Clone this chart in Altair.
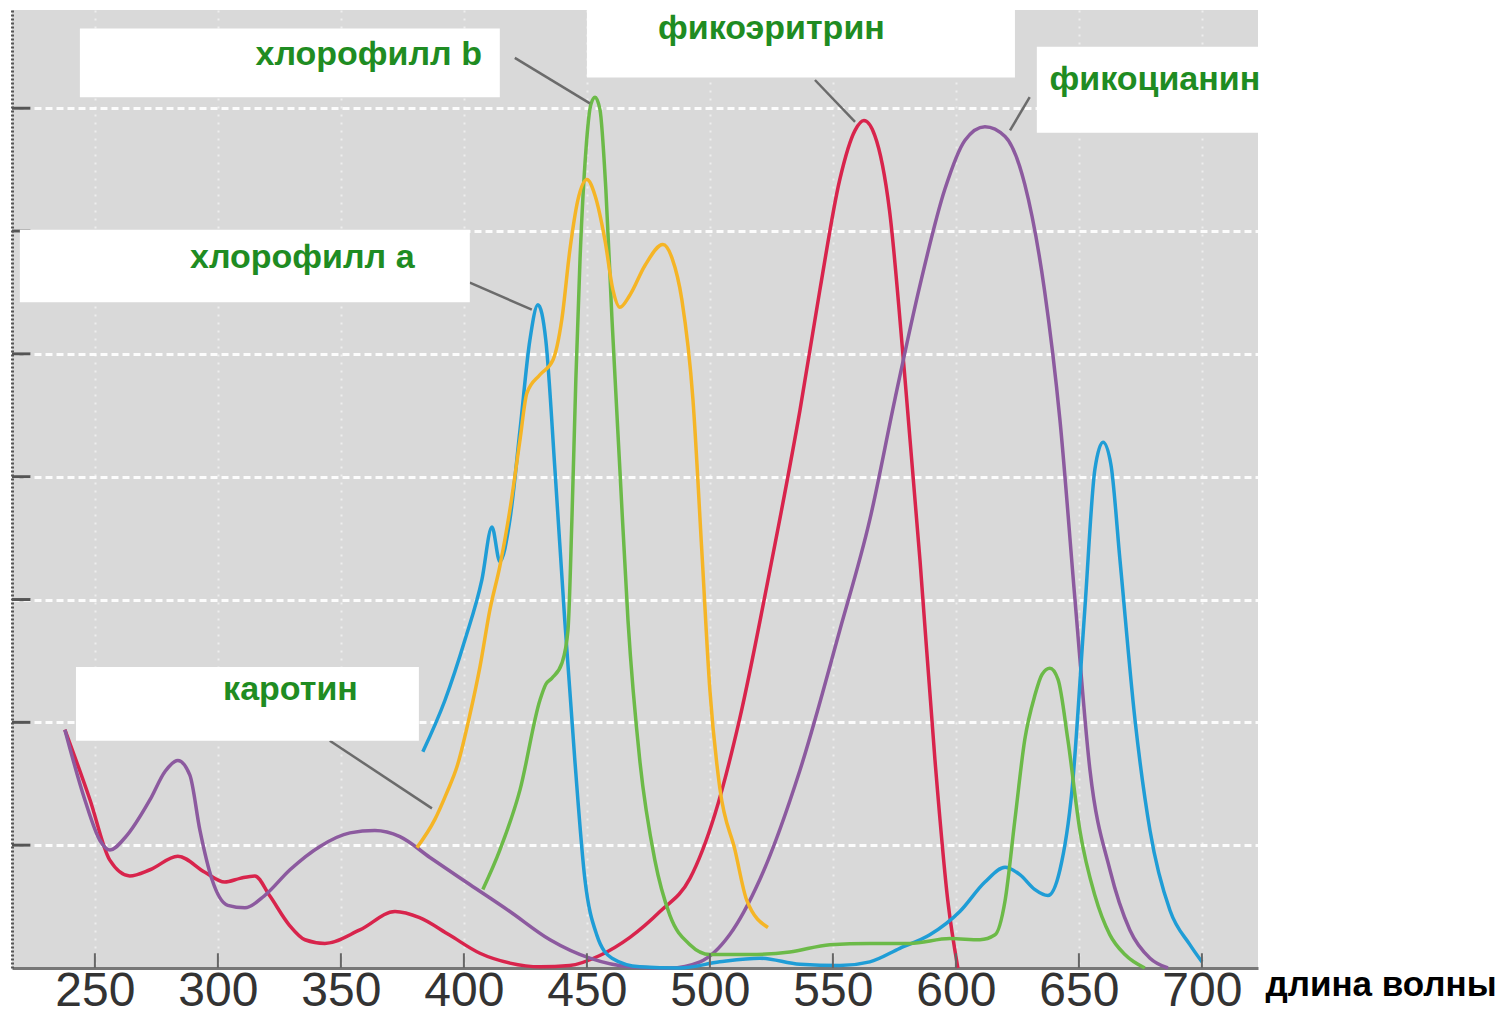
import altair as alt
import pandas as pd

# ---------------- data (wavelength, nm ; absorbance, arbitrary units) ----------------
red_nm = [237.8, 248, 256, 264.2, 272.4, 283.7, 294.7, 302.8, 309, 315, 321, 329, 335.4, 343.5,
          357.7, 372, 382, 394, 406.5, 418.7, 431, 443, 455, 467.5, 479.7, 491.9, 502, 512,
          524.4, 536.6, 544.7, 552.8, 559, 562.6, 567, 573, 579, 585.4, 591.5, 596.7, 600.8]
red_val = [1.94, 1.37, 0.88, 0.75, 0.80, 0.91, 0.78, 0.70, 0.73, 0.75, 0.59, 0.35, 0.23, 0.20,
           0.31, 0.46, 0.41, 0.27, 0.12, 0.04, 0.01, 0.02, 0.10, 0.25, 0.46, 0.73, 1.25, 2.02,
           3.24, 4.54, 5.52, 6.42, 6.82, 6.90, 6.78, 6.17, 4.87, 3.32, 1.69, 0.55, 0.0]

purple_nm = [237.8, 245.9, 252, 256.1, 262.2, 272.4, 278.5, 283.7, 288.6, 292.7, 297.6, 304, 311,
             319, 329.3, 341.5, 353.7, 363.8, 374, 386.2, 402.4, 418.7, 435, 451.2, 467.5, 483.7,
             496, 508, 520.3, 536.6, 552.8, 565, 575.2, 585.4, 595.5, 603.7, 611.8, 620, 628,
             636, 642.3, 648.4, 654.5, 662.6, 670.7, 678.9, 686.2]
purple_val = [1.94, 1.37, 1.04, 0.96, 1.06, 1.37, 1.60, 1.69, 1.57, 1.12, 0.72, 0.51, 0.49,
              0.59, 0.80, 0.99, 1.10, 1.12, 1.07, 0.90, 0.68, 0.46, 0.23, 0.08, 0.01, 0.0,
              0.05, 0.27, 0.72, 1.61, 2.75, 3.65, 4.63, 5.56, 6.34, 6.74, 6.85, 6.77, 6.38,
              5.52, 4.46, 3.0, 1.61, 0.80, 0.31, 0.08, 0.0]

blue_nm = [383.3, 392.3, 400.4, 407.3, 411.4, 414.6, 418.7, 422.8, 426.8, 430.1, 433.3, 437, 441,
           445.1, 449.2, 454, 460.2, 471.5, 487.8, 504, 520.3, 536.6, 552.8, 565, 577.2, 589.4,
           601.6, 611.8, 620, 626, 632, 637.4, 642.3, 647.2, 652.4, 656.5, 659.8, 663, 666.7,
           672.8, 678.9, 687, 695.1, 700]
blue_val = [1.76, 2.18, 2.67, 3.16, 3.59, 3.31, 3.65, 4.38, 5.11, 5.40, 5.11, 4.06, 2.83,
            1.69, 0.72, 0.27, 0.08, 0.01, 0.0, 0.05, 0.08, 0.03, 0.02, 0.05, 0.16, 0.27,
            0.46, 0.70, 0.82, 0.76, 0.64, 0.59, 0.80, 1.45, 2.92, 4.06, 4.28, 4.10, 3.32,
            2.02, 1.12, 0.47, 0.19, 0.05]

green_nm = [407.7, 414.6, 422.8, 430.9, 433.3, 435.8, 439.8, 442.3, 443.9, 445.5, 447.2, 449.6,
            451.6, 453.3, 455.3, 457.7, 460.2, 463.4, 466.7, 471.5, 477.6, 483.7, 491.9, 500,
            516.3, 532.5, 548.8, 565, 581.3, 597.6, 609.8, 615.9, 620, 624, 628, 632.1, 635,
            638.2, 641.5, 645.5, 650.4, 656.5, 662.6, 668.7, 676.8]
green_val = [0.64, 0.96, 1.45, 2.18, 2.31, 2.36, 2.48, 2.75, 3.65, 4.79, 5.77, 6.66,
             7.03, 7.09, 6.99, 6.34, 5.28, 4.06, 2.83, 1.69, 0.88, 0.43, 0.19, 0.11,
             0.11, 0.13, 0.19, 0.20, 0.20, 0.24, 0.23, 0.27, 0.55, 1.21, 1.86, 2.22, 2.39,
             2.44, 2.35, 1.86, 1.12, 0.59, 0.27, 0.11, 0.0]

orange_nm = [380.9, 388.2, 393.1, 397.2, 402.4, 406.5, 410.6, 414.6, 418.7, 422.8, 425.6, 430.9,
             436.2, 439.8, 443.1, 446.3, 450, 453.3, 457.3, 460.6, 463.4, 467.5, 473.6, 480.9,
             484.6, 488.6, 493.1, 496.7, 500, 504, 510.2, 515, 523.6]
orange_val = [0.98, 1.21, 1.43, 1.64, 2.06, 2.45, 2.92, 3.27, 3.73, 4.30, 4.68, 4.83,
              4.95, 5.28, 5.85, 6.25, 6.42, 6.29, 5.93, 5.52, 5.38, 5.48, 5.72, 5.89,
              5.78, 5.44, 4.63, 3.40, 2.26, 1.47, 0.96, 0.55, 0.33]

series_names = ["фикоэритрин", "фикоцианин", "хлорофилл a", "хлорофилл b", "каротин"]
series_colors = ["#d8244c", "#8c5a9f", "#1f9dd6", "#6cba48", "#f5b526"]

x_ticks = [250, 300, 350, 400, 450, 500, 550, 600, 650, 700]
y_ticks = [1, 2, 3, 4, 5, 6, 7]

# annotation labels
label_text = ["хлорофилл b", "фикоэритрин", "фикоцианин", "хлорофилл а", "каротин"]
label_x = [361.3, 525.0, 680.9, 334.3, 329.5]
label_y = [7.35, 7.56, 7.15, 5.70, 2.18]
box_x1 = [243.9, 450.0, 632.9, 219.5, 242.3]
box_x2 = [414.6, 624.0, 726.8, 402.4, 381.7]
box_y1 = [7.09, 7.25, 6.80, 5.42, 1.85]
box_y2 = [7.65, 7.80, 7.50, 6.01, 2.45]
lead_x1 = [420.7, 542.7, 630.0, 402.4, 345.5]
lead_y1 = [7.41, 7.23, 7.09, 5.58, 1.85]
lead_x2 = [451.2, 559.0, 622.0, 427.6, 387.0]
lead_y2 = [7.04, 6.89, 6.82, 5.36, 1.30]

X_MIN, X_MAX = 216.3, 722.8
Y_MIN, Y_MAX = 0, 7.8

# ---------------- tables ----------------
frames = []
for name, xs, ys in zip(series_names,
                        [red_nm, purple_nm, blue_nm, green_nm, orange_nm],
                        [red_val, purple_val, blue_val, green_val, orange_val]):
    frames.append(pd.DataFrame({"nm": xs, "val": ys, "series": name, "i": range(len(xs))}))
curves = pd.concat(frames, ignore_index=True)

labels = pd.DataFrame({"text": label_text, "x": label_x, "y": label_y,
                       "bx1": box_x1, "bx2": box_x2, "by1": box_y1, "by2": box_y2,
                       "lx1": lead_x1, "ly1": lead_y1, "lx2": lead_x2, "ly2": lead_y2})
xt = pd.DataFrame({"x": x_ticks, "y1": 0, "y2": 0.12})
yt = pd.DataFrame({"y": y_ticks, "x1": X_MIN, "x2": X_MIN + 7.5})

xscale = alt.Scale(domain=[X_MIN, X_MAX], nice=False, zero=False)
yscale = alt.Scale(domain=[Y_MIN, Y_MAX], nice=False)

xaxis = alt.Axis(values=x_ticks, title="длина волны", labelFont="Liberation Sans",
                 labelFontSize=48, labelColor="#333333", ticks=False, labelPadding=37,
                 labelBaseline="alphabetic", domainColor="#777777",
                 domainWidth=3, grid=True, gridColor="white", gridDash=[2, 6], gridWidth=2,
                 gridOpacity=0.55, titleFont="Liberation Sans", titleFontSize=35,
                 titleFontWeight="bold", titleColor="black", titleX=1253, titleY=27,
                 titleAlign="left", titleBaseline="alphabetic", labelFlush=False)
yaxis = alt.Axis(values=y_ticks, title=None, labels=False, ticks=False, domainColor="#555555",
                 domainDash=[2, 2], domainWidth=3, grid=True, gridColor="white",
                 gridDash=[7, 4], gridWidth=3, gridOpacity=0.9)

base_curves = alt.Chart(curves).mark_line(interpolate="monotone", strokeWidth=3.5).encode(
    x=alt.X("nm:Q", scale=xscale, axis=xaxis),
    y=alt.Y("val:Q", scale=yscale, axis=yaxis),
    color=alt.Color("series:N", scale=alt.Scale(domain=series_names, range=series_colors),
                    legend=None),
    detail="series:N",
    order="i:Q",
)

xtick_layer = alt.Chart(xt).mark_rule(color="#666666", strokeWidth=2).encode(
    x=alt.X("x:Q", scale=xscale), y=alt.Y("y1:Q", scale=yscale), y2="y2:Q")
ytick_layer = alt.Chart(yt).mark_rule(color="#555555", strokeWidth=3).encode(
    x=alt.X("x1:Q", scale=xscale), x2="x2:Q", y=alt.Y("y:Q", scale=yscale))

leaders = alt.Chart(labels).mark_rule(color="#6b6b6b", strokeWidth=2.5).encode(
    x=alt.X("lx1:Q", scale=xscale), x2="lx2:Q",
    y=alt.Y("ly1:Q", scale=yscale), y2="ly2:Q")
boxes = alt.Chart(labels).mark_rect(color="white", opacity=1).encode(
    x=alt.X("bx1:Q", scale=xscale), x2="bx2:Q",
    y=alt.Y("by1:Q", scale=yscale), y2="by2:Q")
texts = alt.Chart(labels).mark_text(font="Liberation Sans", fontSize=34, fontWeight="bold",
                                    color="#1f8c22", baseline="alphabetic", align="center").encode(
    x=alt.X("x:Q", scale=xscale), y=alt.Y("y:Q", scale=yscale), text="text:N")

chart = alt.layer(base_curves, xtick_layer, ytick_layer, leaders, boxes, texts).properties(
    width=1246, height=958,
    autosize=alt.AutoSizeParams(type="none"),
    padding={"left": 4, "top": 2, "right": 239, "bottom": 46},
    background="white",
).configure_view(fill="#d9d9d9", stroke=None)

chart.save("out.html", embed_options={"renderer": "svg", "actions": False})
